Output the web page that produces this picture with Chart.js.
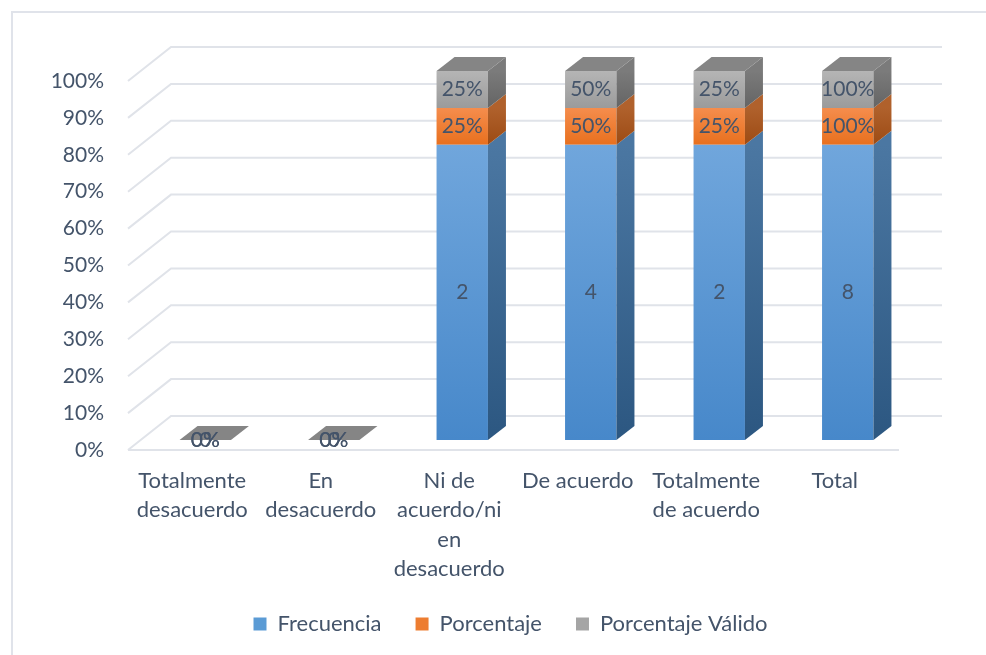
<!DOCTYPE html>
<html>
<head>
<meta charset="utf-8">
<script src="https://cdn.jsdelivr.net/npm/chart.js@4/dist/chart.umd.min.js"></script>
<style>
	body { margin: 0; background: #fff; }
	#wrap { position: relative; width: 986px; height: 655px; overflow: hidden; }
	#frame { position: absolute; left: 11px; top: 11px; width: 1000px; height: 700px;
		border-left: 2px solid #e0e3ea; border-top: 2px solid #e0e3ea; }
	#grafico { position: absolute; left: 0; top: 0; }
</style>
</head>
<body>
<div id="wrap">
	<div id="frame"></div>
	<canvas id="grafico" width="986" height="655"></canvas>
</div>
<script>
//Datos
var categorias = [
	['Totalmente', 'desacuerdo'],
	['En', 'desacuerdo'],
	['Ni de', 'acuerdo/ni', 'en', 'desacuerdo'],
	'De acuerdo',
	['Totalmente', 'de acuerdo'],
	'Total'
];
var frecuencia = [0, 0, 2, 4, 2, 8];
var porcentaje = [0, 0, 0.25, 0.5, 0.25, 1];
var porcentajeValido = [0, 0, 0.25, 0.5, 0.25, 1];
var nombres = ['Frecuencia', 'Porcentaje', 'Porcentaje Válido'];

var series = [frecuencia, porcentaje, porcentajeValido];

//100% apilado: cada serie como parte del total de la categoria
var totales = categorias.map(function(c, j) {
	return frecuencia[j] + porcentaje[j] + porcentajeValido[j];
});
var partes = series.map(function(s) {
	return s.map(function(v, j) { return totales[j] ? v / totales[j] * 100 : 0; });
});

function etiqueta(i, v) {
	if (i === 0) return String(v);
	return Math.round(v * 100) + '%';
}

//Colores (frente claro->oscuro, lado claro->oscuro)
var colores = [
	{ base: '#5b9bd5', frente: ['#70a6dc', '#4788ca'], lado: ['#4b77a2', '#2c5781'] },
	{ base: '#ed7d31', frente: ['#f58d4d', '#e8701e'], lado: ['#b0612c', '#9c4b14'] },
	{ base: '#a5a5a5', frente: ['#b5b5b5', '#9b9b9b'], lado: ['#7b7b7b', '#646464'] }
];
var colorTapa = '#858585';
var colorTexto = '#44546a';
var colorRejilla = '#e0e3e9';
var fuente = 'Lato, "Open Sans", sans-serif';

//Profundidad 3D
var prof = { fx: 13, fy: -10, bx: 18, by: -14, wx: 43, wy: -34 };

function rangoSegmento(chart, i, j) {
	var y = chart.scales.y;
	var lo = 0;
	for (var k = 0; k < i; k++) lo += partes[k][j];
	var hi = lo + partes[i][j];
	return [y.getPixelForValue(hi), y.getPixelForValue(lo)];
}

function degradado(ctx, y0, y1, par) {
	var g = ctx.createLinearGradient(0, y0, 0, y1);
	g.addColorStop(0, par[0]);
	g.addColorStop(1, par[1]);
	return g;
}

function rellenoFrente(c) {
	var col = colores[c.datasetIndex];
	if (c.type !== 'data' || !c.chart.chartArea) return col.base;
	var r = rangoSegmento(c.chart, c.datasetIndex, c.dataIndex);
	if (r[1] - r[0] < 1) return col.base;
	return degradado(c.chart.ctx, r[0], r[1], col.frente);
}

function poligono(ctx, pts, fill) {
	ctx.beginPath();
	ctx.moveTo(pts[0][0], pts[0][1]);
	for (var k = 1; k < pts.length; k++) ctx.lineTo(pts[k][0], pts[k][1]);
	ctx.closePath();
	ctx.fillStyle = fill;
	ctx.fill();
}

var caja3d = {
	id: 'caja3d',
	afterLayout: function(chart) {
		//leyenda algo corrida a la derecha
		chart.legend.left += 61;
		chart.legend.right += 61;
	},
	beforeDatasetsDraw: function(chart) {
		var ctx = chart.ctx, a = chart.chartArea, y = chart.scales.y;
		ctx.save();
		ctx.strokeStyle = colorRejilla;
		ctx.lineWidth = 2;
		y.ticks.forEach(function(t) {
			var py = y.getPixelForValue(t.value);
			ctx.beginPath();
			ctx.moveTo(a.left, py);
			ctx.lineTo(a.left + prof.wx, py + prof.wy);
			ctx.lineTo(a.right + prof.wx, py + prof.wy);
			ctx.stroke();
		});
		//borde frontal del piso
		var p0 = y.getPixelForValue(0);
		ctx.beginPath();
		ctx.moveTo(a.left, p0);
		ctx.lineTo(a.right, p0);
		ctx.stroke();
		ctx.restore();

		//las barras van a media profundidad
		ctx.save();
		ctx.translate(prof.fx, prof.fy);
	},
	afterDatasetsDraw: function(chart) {
		var ctx = chart.ctx;
		var ultimo = chart.data.datasets.length - 1;

		chart.data.datasets.forEach(function(ds, i) {
			chart.getDatasetMeta(i).data.forEach(function(el, j) {
				var p = el.getProps(['x', 'y', 'base', 'width'], true);
				var der = p.x + p.width / 2, izq = p.x - p.width / 2;
				var arriba = Math.min(p.y, p.base), abajo = Math.max(p.y, p.base);
				if (abajo - arriba > 0.5) {
					poligono(ctx, [[der, arriba], [der + prof.bx, arriba + prof.by],
						[der + prof.bx, abajo + prof.by], [der, abajo]],
						degradado(ctx, arriba, abajo, colores[i].lado));
				}
				if (i === ultimo) {
					poligono(ctx, [[izq, arriba], [izq + prof.bx, arriba + prof.by],
						[der + prof.bx, arriba + prof.by], [der, arriba]], colorTapa);
				}
			});
		});

		//etiquetas de datos
		ctx.font = '21px ' + fuente;
		ctx.fillStyle = colorTexto;
		ctx.textAlign = 'center';
		ctx.textBaseline = 'middle';
		chart.data.datasets.forEach(function(ds, i) {
			chart.getDatasetMeta(i).data.forEach(function(el, j) {
				var p = el.getProps(['x', 'y', 'base'], true);
				ctx.fillText(etiqueta(i, series[i][j]), p.x, (p.y + p.base) / 2);
			});
		});

		ctx.restore();
	}
};

var datasets = nombres.map(function(n, i) {
	return {
		label: n,
		data: partes[i],
		backgroundColor: rellenoFrente,
		borderWidth: 0,
		categoryPercentage: 1,
		barPercentage: 0.4,
		clip: false
	};
});

new Chart(document.getElementById('grafico'), {
	type: 'bar',
	data: { labels: categorias, datasets: datasets },
	plugins: [caja3d],
	options: {
		responsive: false,
		animation: false,
		layout: { padding: { left: 0, right: 87, top: 81, bottom: 10 } },
		scales: {
			x: {
				stacked: true,
				grid: { display: false, drawTicks: false },
				border: { display: false },
				ticks: {
					autoSkip: false,
					maxRotation: 0,
					padding: 16,
					color: colorTexto,
					font: { family: fuente, size: 22, lineHeight: 1.34 }
				},
				afterFit: function(s) { s.height = 129; }
			},
			y: {
				stacked: true,
				min: 0,
				max: 100,
				grid: { display: false, drawTicks: false },
				border: { display: false },
				ticks: {
					stepSize: 10,
					padding: 24,
					color: colorTexto,
					font: { family: fuente, size: 21 },
					callback: function(v) { return v + '%'; }
				},
				afterFit: function(s) { s.width = 128; }
			}
		},
		plugins: {
			tooltip: { enabled: false },
			legend: {
				position: 'bottom',
				labels: {
					boxWidth: 13,
					boxHeight: 13,
					padding: 34,
					color: colorTexto,
					font: { family: fuente, size: 22 },
					generateLabels: function(chart) {
						return Chart.defaults.plugins.legend.labels.generateLabels(chart).map(function(l, i) {
							l.fillStyle = colores[i].base;
							l.strokeStyle = colores[i].base;
							l.lineWidth = 0;
							return l;
						});
					}
				}
			}
		}
	}
});
</script>
</body>
</html>
